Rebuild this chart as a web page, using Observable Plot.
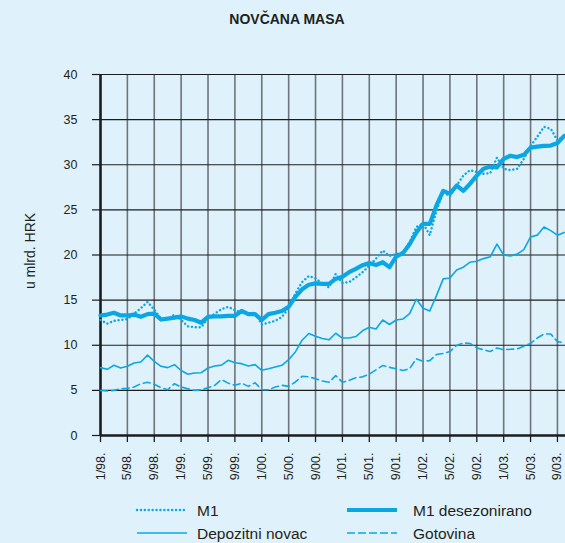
<!DOCTYPE html>
<html>
<head>
<meta charset="utf-8">
<script src="https://cdn.jsdelivr.net/npm/d3@7"></script>
<script src="https://cdn.jsdelivr.net/npm/@observablehq/plot@0.6"></script>
<style>
  html, body { margin: 0; padding: 0; }
  body { width: 565px; height: 543px; background: #dff2fb; position: relative; overflow: hidden;
         font-family: "Liberation Sans", Arial, Helvetica, sans-serif; color: #231f20; }
  #title { position: absolute; left: 0; width: 574px; top: 11px; text-align: center;
           font-weight: bold; font-size: 14px; }
  #ylab { position: absolute; left: 30px; top: 251px; transform: translate(-50%, -50%) rotate(-90deg);
          font-size: 14px; white-space: nowrap; }
  #chart { position: absolute; left: 0; top: 0; }
  #legend { position: absolute; left: 0; top: 0; }
</style>
</head>
<body>
<div id="title">NOVČANA MASA</div>
<div id="chart"></div>
<div id="ylab">u mlrd. HRK</div>
<svg id="legend" width="565" height="543"></svg>
<script>
// ---- data (monthly, 1/98 .. 10/03), billions HRK ----
const startYear = 1998;
const m1 = [12.8,12.4,12.7,12.8,12.9,13.5,14.1,14.8,13.95,12.95,12.9,13.4,12.8,12.1,12.0,12.0,13.0,13.5,14.0,14.25,13.9,13.6,13.5,13.6,12.3,12.5,12.7,13.15,14.1,15.74,17.0,17.67,17.4,16.85,16.4,17.9,16.9,17.0,17.5,18.1,18.8,19.6,20.5,19.9,20.1,20.3,21.4,23.1,23.5,22.2,24.9,27.0,26.5,27.7,28.8,29.4,29.2,29.0,29.05,30.8,29.55,29.4,29.55,30.65,32.1,33.1,34.2,34.0,32.7,33.2];
const m1Sa = [13.3,13.4,13.6,13.3,13.3,13.4,13.15,13.45,13.5,12.85,12.95,13.05,13.2,12.95,12.8,12.5,13.15,13.2,13.2,13.25,13.25,13.8,13.45,13.45,12.8,13.45,13.6,13.8,14.26,15.37,16.2,16.7,16.85,16.8,16.8,17.35,17.6,18.1,18.46,18.87,19.1,18.9,19.2,18.65,19.83,20.2,21.2,22.5,23.45,23.45,25.5,27.1,26.8,27.7,27.1,27.9,28.8,29.55,29.8,29.7,30.65,31.0,30.85,31.1,31.9,32.0,32.1,32.13,32.4,33.2];
const deposits = [7.52,7.33,7.78,7.48,7.67,8.04,8.15,8.9,8.22,7.67,7.52,7.85,7.2,6.78,6.93,6.96,7.48,7.7,7.8,8.33,8.07,7.96,7.7,7.85,7.22,7.4,7.6,7.78,8.4,9.26,10.56,11.3,11.0,10.74,10.6,11.33,10.8,10.8,10.96,11.6,12.0,11.8,12.8,12.3,12.8,12.9,13.5,15.1,14.1,13.8,15.5,17.35,17.45,18.35,18.65,19.2,19.3,19.6,19.8,21.2,20.0,19.9,20.1,20.6,22.0,22.2,23.1,22.7,22.2,22.5];
const currency = [5.0,4.93,5.0,5.19,5.22,5.37,5.74,5.9,5.67,5.3,5.07,5.74,5.37,5.19,5.0,5.07,5.3,5.56,6.19,5.8,5.56,5.8,5.44,5.85,5.07,5.07,5.37,5.56,5.44,5.93,6.56,6.5,6.3,6.04,5.9,6.64,5.9,6.1,6.4,6.5,6.8,7.27,7.75,7.55,7.4,7.2,7.4,8.5,8.23,8.3,8.97,9.1,9.3,9.97,10.26,10.2,9.7,9.5,9.3,9.7,9.5,9.55,9.6,9.9,10.2,10.8,11.25,11.25,10.4,10.26];
const xTickLabels = ["1/98.","5/98.","9/98.","1/99.","5/99.","9/99.","1/00.","5/00.","9/00.","1/01.","5/01.","9/01.","1/02.","5/02.","9/02.","1/03.","5/03.","9/03."];
const yTicks = [0,5,10,15,20,25,30,35,40];
const seriesNames = ["M1","M1 desezonirano","Depozitni novac","Gotovina"];

const color = "#0ba7e4";
const toRows = (arr) => arr.map((v, i) => ({i, v}));
const xTicks = xTickLabels.map((_, k) => k * 4);

const chart = Plot.plot({
  width: 565, height: 543,
  marginTop: 74, marginBottom: 108, marginLeft: 100, marginRight: 0,
  style: { background: "transparent", fontFamily: "'Liberation Sans', Arial, Helvetica, sans-serif", fontSize: "12.5px", color: "#231f20", overflow: "visible" },
  x: { domain: [0, 69.2] },
  y: { domain: [0, 40] },
  marks: [
    Plot.ruleX(xTicks, { stroke: "#6e7479", strokeWidth: 1.6 }),
    Plot.ruleY(yTicks, { stroke: "#1c1c1c", strokeWidth: 1.2 }),
    Plot.axisY({ ticks: yTicks, tickSize: 8, tickPadding: 15, label: null, stroke: "#1c1c1c", strokeWidth: 1.2, fontSize: 12.5 }),
    Plot.axisX({ ticks: xTicks, tickFormat: (d) => xTickLabels[d / 4], tickRotate: -90, tickSize: 7, tickPadding: 10, label: null, stroke: "#1c1c1c", strokeWidth: 1.3, fontSize: 12.5 }),
    Plot.ruleX([0], { stroke: "#1c1c1c", strokeWidth: 2.5 }),
    Plot.ruleY([0], { stroke: "#1c1c1c", strokeWidth: 2.5 }),
    Plot.line(toRows(currency), { x: "i", y: "v", stroke: color, strokeWidth: 1.6, strokeDasharray: "7 4" }),
    Plot.line(toRows(deposits), { x: "i", y: "v", stroke: color, strokeWidth: 1.6 }),
    Plot.line(toRows(m1Sa), { x: "i", y: "v", stroke: color, strokeWidth: 4.2 }),
    Plot.line(toRows(m1), { x: "i", y: "v", stroke: color, strokeWidth: 2.4, strokeDasharray: "0.1 3.8", strokeLinecap: "round" })
  ]
});
document.getElementById("chart").appendChild(chart);

// legend
const lg = d3.select("#legend");
const items = [
  { name: seriesNames[0], x: 137, y: 510, w: 2.4, dash: "0.1 3.8", cap: "round" },
  { name: seriesNames[1], x: 347, y: 510, w: 4.2, dash: null, cap: "butt" },
  { name: seriesNames[2], x: 137, y: 533, w: 1.6, dash: null, cap: "butt" },
  { name: seriesNames[3], x: 347, y: 533, w: 1.6, dash: "8 3", cap: "butt" }
];
for (const it of items) {
  lg.append("line").attr("x1", it.x).attr("x2", it.x + 50).attr("y1", it.y).attr("y2", it.y)
    .attr("stroke", color).attr("stroke-width", it.w).attr("stroke-dasharray", it.dash)
    .attr("stroke-linecap", it.cap);
  lg.append("text").attr("x", it.x + 60 + (it.x > 300 ? 6 : 0)).attr("y", it.y).attr("dy", "0.36em")
    .attr("font-size", 15.5).attr("fill", "#231f20")
    .attr("font-family", "'Liberation Sans', Arial, Helvetica, sans-serif").text(it.name);
}
</script>
</body>
</html>
